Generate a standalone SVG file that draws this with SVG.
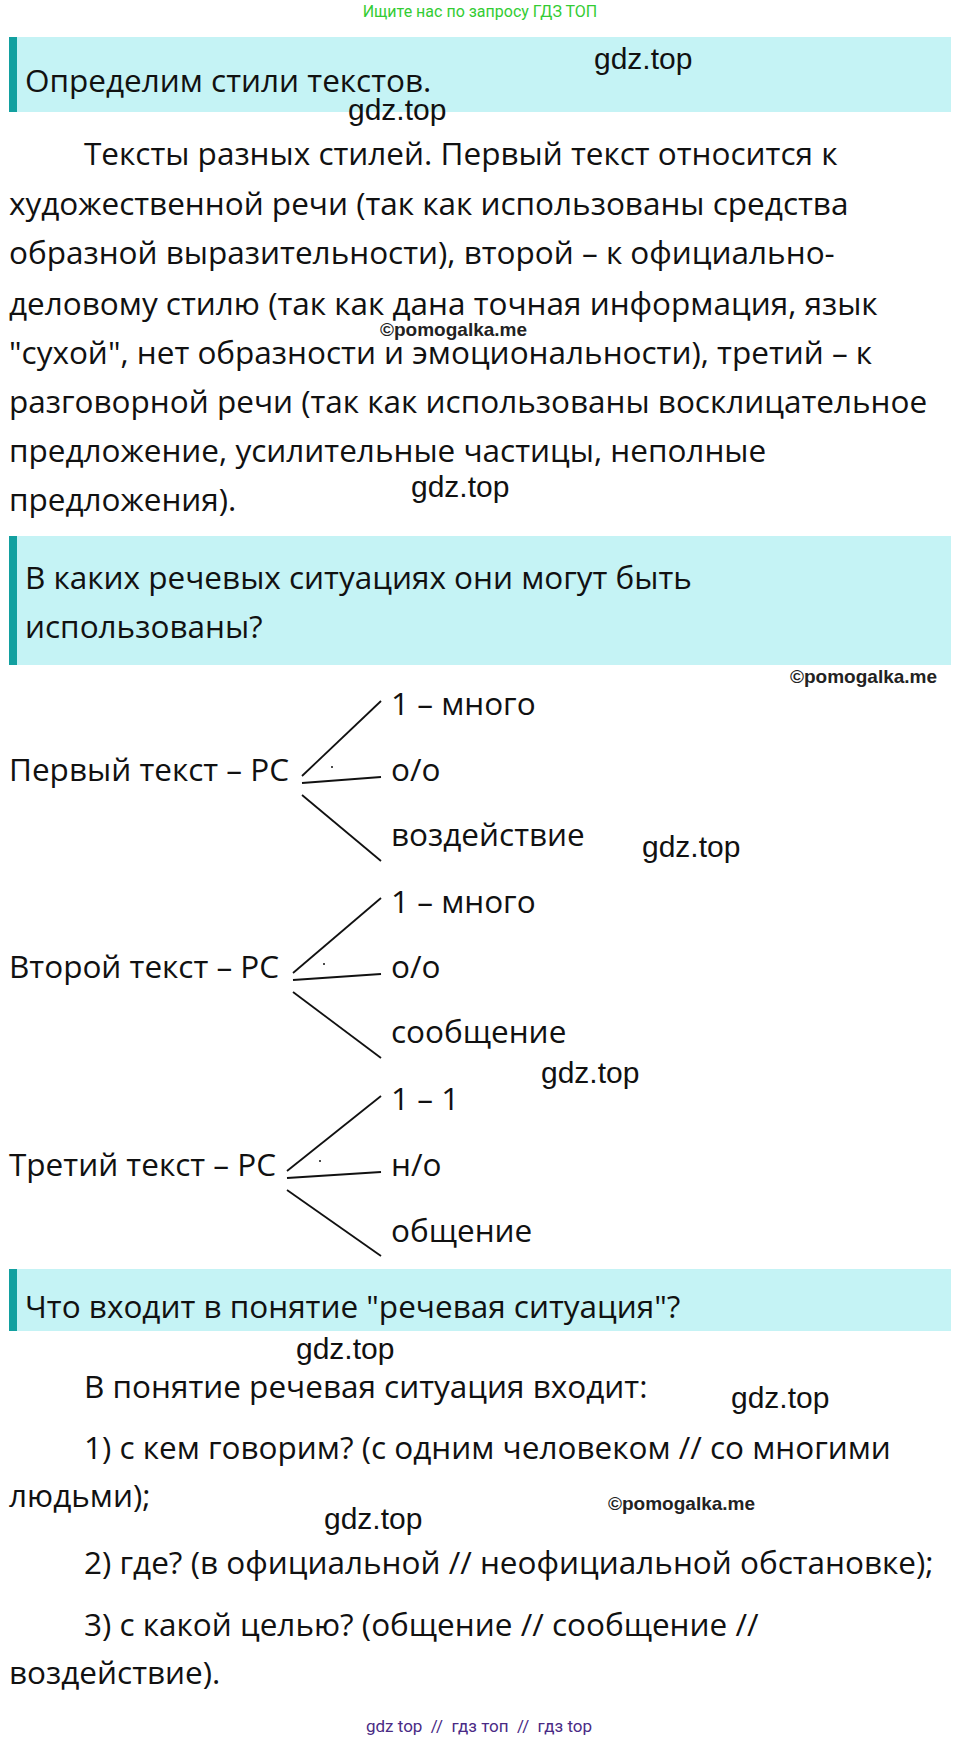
<svg xmlns="http://www.w3.org/2000/svg" width="960" height="1740" viewBox="0 0 960 1740">
<style>
.t{font-family:"Open Sans","Liberation Sans",sans-serif;font-size:31.5px;fill:#111}
.w{font-family:"Liberation Sans",sans-serif;font-size:30px;fill:#111}
.p{font-family:"Liberation Sans",sans-serif;font-size:19px;font-weight:bold;fill:#222}
.hb{fill:#c5f3f5}
.hs{fill:#12a0a0}
.c line{stroke:#111;stroke-width:1.8}
</style>
<rect width="960" height="1740" fill="#fff"/>
<text x="480" y="17" text-anchor="middle" font-family="Roboto,sans-serif" font-size="16" fill="#33cc33">Ищите нас по запросу ГДЗ ТОП</text>
<g id="h1"><rect class="hb" x="9" y="37" width="942" height="75"/><rect class="hs" x="9" y="37" width="8" height="75"/><text class="t" x="25" y="92">Определим стили текстов.</text></g>
<text class="w" x="594" y="69">gdz.top</text>
<text class="w" x="348" y="120">gdz.top</text>
<g id="para1" class="t">
<text x="84" y="165">Тексты разных стилей. Первый текст относится к</text>
<text x="9" y="215">художественной речи (так как использованы средства</text>
<text x="9" y="264">образной выразительности), второй – к официально-</text>
<text x="9" y="315">деловому стилю (так как дана точная информация, язык</text>
<text x="9" y="364">"сухой", нет образности и эмоциональности), третий – к</text>
<text x="9" y="413">разговорной речи (так как использованы восклицательное</text>
<text x="9" y="462">предложение, усилительные частицы, неполные</text>
<text x="9" y="511">предложения).</text>
</g>
<text class="p" x="380" y="336">©pomogalka.me</text>
<text class="w" x="411" y="497">gdz.top</text>
<g id="h2"><rect class="hb" x="9" y="536" width="942" height="129"/><rect class="hs" x="9" y="536" width="8" height="129"/><text class="t" x="25" y="589">В каких речевых ситуациях они могут быть</text><text class="t" x="25" y="638">использованы?</text></g>
<text class="p" x="790" y="683">©pomogalka.me</text>
<g id="tree1" class="t"><text x="9" y="781">Первый текст – РС</text><text x="391" y="715">1 – много</text><text x="391" y="781">о/о</text><text x="391" y="846">воздействие</text></g>
<g id="tree2" class="t"><text x="9" y="978">Второй текст – РС</text><text x="391" y="913">1 – много</text><text x="391" y="978">о/о</text><text x="391" y="1043">сообщение</text></g>
<g id="tree3" class="t"><text x="9" y="1176">Третий текст – РС</text><text x="391" y="1110">1 – 1</text><text x="391" y="1176">н/о</text><text x="391" y="1242">общение</text></g>
<g id="connectors" class="c">
<line x1="302" y1="776" x2="381" y2="701"/><line x1="302" y1="783" x2="381" y2="777"/><line x1="302" y1="795" x2="381" y2="861"/>
<line x1="293" y1="973" x2="381" y2="898"/><line x1="293" y1="980" x2="381" y2="974"/><line x1="293" y1="992" x2="381" y2="1058"/>
<line x1="287" y1="1171" x2="381" y2="1096"/><line x1="287" y1="1178" x2="381" y2="1172"/><line x1="287" y1="1190" x2="381" y2="1256"/>
</g>
<circle cx="332" cy="767" r="1" fill="#111"/><circle cx="324" cy="964" r="1" fill="#111"/><circle cx="320" cy="1161" r="1" fill="#111"/>
<text class="w" x="642" y="857">gdz.top</text>
<text class="w" x="541" y="1083">gdz.top</text>
<g id="h3"><rect class="hb" x="9" y="1269" width="942" height="62"/><rect class="hs" x="9" y="1269" width="8" height="62"/><text class="t" x="25" y="1318">Что входит в понятие "речевая ситуация"?</text></g>
<text class="w" x="296" y="1359">gdz.top</text>
<text class="w" x="731" y="1408">gdz.top</text>
<g id="para2" class="t">
<text x="84" y="1398">В понятие речевая ситуация входит:</text>
<text x="84" y="1459">1) с кем говорим? (с одним человеком // со многими</text>
<text x="9" y="1507">людьми);</text>
<text x="84" y="1574">2) где? (в официальной // неофициальной обстановке);</text>
<text x="84" y="1636">3) с какой целью? (общение // сообщение //</text>
<text x="9" y="1684">воздействие).</text>
</g>
<text class="p" x="608" y="1510">©pomogalka.me</text>
<text class="w" x="324" y="1529">gdz.top</text>
<text x="479" y="1732" text-anchor="middle" font-family="Roboto,sans-serif" font-size="17" fill="#4a2a85" xml:space="preserve">gdz top  //  гдз топ  //  гдз top</text>
</svg>
